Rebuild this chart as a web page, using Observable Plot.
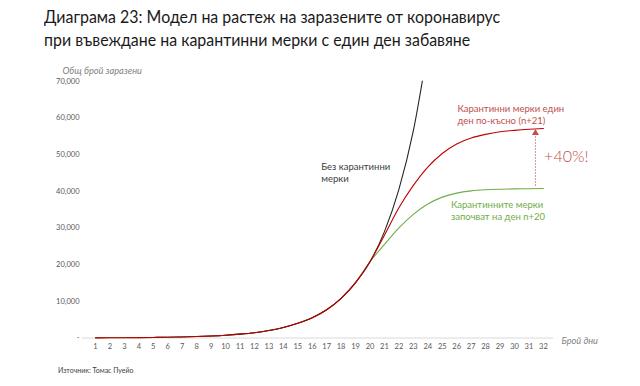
<!DOCTYPE html>
<html>
<head>
<meta charset="utf-8">
<script src="https://cdn.jsdelivr.net/npm/d3@7"></script>
<script src="https://cdn.jsdelivr.net/npm/@observablehq/plot@0.6"></script>
<style>
  html, body { margin: 0; padding: 0; background: #fff; }
  #wrap { position: relative; width: 640px; height: 386px; overflow: hidden; font-family: "Lato", "Open Sans", sans-serif; }
  #title { position: absolute; left: 44px; top: 5px; font-size: 17.5px; line-height: 23px; color: #1a1a1a; white-space: nowrap; transform: scaleX(0.91); transform-origin: 0 0; }
  #source { position: absolute; left: 58px; top: 366px; font-size: 7px; color: #404040; white-space: nowrap; }
  #chart { position: absolute; left: 0; top: 0; }
</style>
</head>
<body>
<div id="wrap">
  <div id="chart"></div>
  <div id="title">Диаграма 23: Модел на растеж на заразените от коронавирус<br>при въвеждане на карантинни мерки с един ден забавяне</div>
  <div id="source">Източник: Томас Пуейо</div>
</div>
<script>
// Days (x categories)
const days = [1,2,3,4,5,6,7,8,9,10,11,12,13,14,15,16,17,18,19,20,21,22,23,24,25,26,27,28,29,30,31,32];
// Y tick values
const yTicks = [0,10000,20000,30000,40000,50000,60000,70000];

// Без карантинни мерки (days 1–24)
const noQuarantine = [40,55,75,105,150,200,280,390,540,750,1050,1450,2050,2850,4000,5500,7700,10800,15100,20800,29000,40500,56500,79000];
// Карантинни мерки един ден по-късно (n+21)
const quarantineDay21 = [40,55,75,105,150,200,280,390,540,750,1050,1450,2050,2850,4000,5500,7700,10800,15100,20800,28000,35500,41600,46600,50300,52900,54500,55500,56200,56600,56900,57100];
// Карантинните мерки започват на ден n+20
const quarantineDay20 = [40,55,75,105,150,200,280,390,540,750,1050,1450,2050,2850,4000,5500,7700,10800,15100,20800,25500,30000,33700,36500,38400,39500,40100,40400,40550,40650,40700,40750];

const toRows = (vals) => vals.map((v, i) => ({day: days[i], value: v}));

const font = "Lato, 'Open Sans', sans-serif";
const redLine = "#c00000", redText = "#c0504d", green = "#70ad47", black = "#262626";

const chart = Plot.plot({
  width: 640,
  height: 386,
  marginLeft: 82,
  marginRight: 87,
  marginTop: 80.7,
  marginBottom: 48.5,
  style: {fontFamily: font, background: "transparent", overflow: "visible"},
  x: {domain: [0.1, 32.7]},
  y: {domain: [0, 70000]},
  marks: [
    Plot.ruleY([0], {stroke: "#d9d9d9", strokeWidth: 1}),
    Plot.axisX(days, {tickSize: 0, tickPadding: 6, fontSize: 7.5, fill: "#595959", label: null}),
    Plot.axisY(yTicks, {tickSize: 0, tickPadding: 3, fontSize: 7.5, fill: "#595959", label: null,
      tickFormat: d => d === 0 ? "-" : d3.format(",")(d)}),
    Plot.line(toRows(quarantineDay20), {x: "day", y: "value", stroke: green, strokeWidth: 1.1, curve: "monotone-x"}),
    Plot.line(toRows(noQuarantine), {x: "day", y: "value", stroke: black, strokeWidth: 1.1, curve: "monotone-x", clip: true}),
    Plot.line(toRows(quarantineDay21), {x: "day", y: "value", stroke: redLine, strokeWidth: 1.1, curve: "monotone-x"}),
    // +40% arrow
    Plot.ruleX([31.45], {y1: 41400, y2: 55200, stroke: redText, strokeWidth: 1, strokeDasharray: "1.2,1.8"}),
    Plot.dot([{day: 31.45, value: 55900}], {x: "day", y: "value", symbol: "triangle", r: 2.6, fill: redText, stroke: "none"}),
    // annotations
    Plot.text([{day: 16.62, value: 45100, t: "Без карантинни\nмерки"}], {x: "day", y: "value", text: "t", textAnchor: "start", fontSize: 9.5, fill: "#404040", lineHeight: 1.25}),
    Plot.text([{day: 26.05, value: 61000, t: "Карантинни мерки един\nден по-късно (n+21)"}], {x: "day", y: "value", text: "t", textAnchor: "start", fontSize: 9.5, fill: redText, lineHeight: 1.3}),
    Plot.text([{day: 25.6, value: 34900, t: "Карантинните мерки\nзапочват на ден n+20"}], {x: "day", y: "value", text: "t", textAnchor: "start", fontSize: 9.5, fill: green, lineHeight: 1.3}),
    Plot.text([{day: 32.05, value: 49500, t: "+40%!"}], {x: "day", y: "value", text: "t", textAnchor: "start", fontSize: 16, fontWeight: 300, fill: redText}),
    // axis titles
    Plot.text(["Общ брой заразени"], {frameAnchor: "top-left", dx: -20, dy: -14, textAnchor: "start", fontSize: 9.2, fontStyle: "italic", fill: "#7f7f7f"}),
    Plot.text(["Брой дни"], {frameAnchor: "bottom-right", dx: 8, dy: 6, textAnchor: "start", fontSize: 9.2, fontStyle: "italic", fill: "#7f7f7f"})
  ]
});
document.getElementById("chart").appendChild(chart);
</script>
</body>
</html>
